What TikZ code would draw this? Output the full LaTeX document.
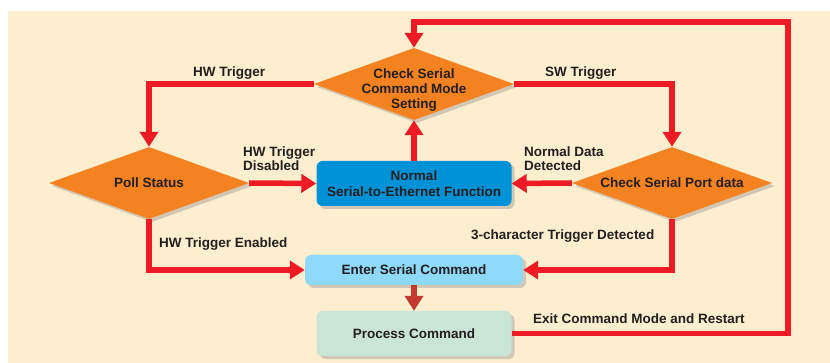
\documentclass[tikz,border=0pt]{standalone}
\usepackage{fontspec}
\setmainfont{Liberation Sans}
\usetikzlibrary{arrows.meta,shapes.geometric,shadows}

\definecolor{cream}{RGB}{253,238,208}
\definecolor{flowred}{RGB}{237,28,36}
\definecolor{dullred}{RGB}{196,58,46}
\definecolor{decorange}{RGB}{245,130,32}
\definecolor{normblue}{RGB}{0,146,214}
\definecolor{enterblue}{RGB}{142,216,248}
\definecolor{procgreen}{RGB}{202,229,214}
\definecolor{txtgray}{RGB}{35,31,32}

\tikzset{
  shade/.style={drop shadow={shadow xshift=3pt,shadow yshift=-3pt,opacity=.35}},
  decision/.style={diamond,aspect=2.78,fill=decorange,shade,minimum width=200pt,minimum height=72pt,
    inner sep=-10pt,align=center,text=txtgray,font=\fontsize{13.5}{15}\selectfont\bfseries},
  box/.style={rectangle,rounded corners=6pt,shade,align=center,text=txtgray,
    font=\fontsize{13.5}{16}\selectfont\bfseries},
  flow/.style={flowred,line width=5.5pt,-{Triangle[width=18pt,length=15pt]}},
  tag/.style={inner sep=0pt,anchor=north west,align=left,text=txtgray,
    font=\fontsize{13.5}{14}\selectfont\bfseries}
}

\begin{document}
\begin{tikzpicture}[x=1pt,y=-1pt]
  \useasboundingbox (0,0) rectangle (830,363);
  \fill[cream] (8,11) rectangle (830,363);

  % decisions
  \node[decision] (chk) at (414,84) {\rule{0pt}{21pt}Check Serial\\Command Mode\\Setting};
  \node[decision] (poll) at (149,183) {Poll Status};
  \node[decision] (port) at (672,183) {Check Serial Port data};

  % boxes
  \node[box,fill=normblue,minimum width=195pt,minimum height=45pt] (normal) at (414,183.5)
    {Normal\\Serial-to-Ethernet Function};
  \node[box,fill=enterblue,minimum width=218pt,minimum height=30pt] (enter) at (414,270)
    {Enter Serial Command};
  \node[box,fill=procgreen,minimum width=195pt,minimum height=45pt] (proc) at (414,333.5)
    {Process Command};

  \coordinate (loop) at (788,22);

  % connectors
  \draw[flow] (chk.west) -| (poll.north);
  \draw[flow] (chk.east) -| (port.north);
  \draw[flow] (poll.east) -- (normal.west);
  \draw[flow] (port.west) -- (normal.east);
  \draw[flow] (normal.north) -- (chk.south);
  \draw[flow] (poll.south) |- (enter.west);
  \draw[flow] (port.south) |- (enter.east);
  \draw[flow,dullred] (enter.south) -- (proc.north);
  \draw[flow] (proc.east) -| (loop) -| (chk.north);

  % labels
  \node[tag] (hwlbl) at (193,67) {HW Trigger};
  \node[tag] (swlbl) at (545,67) {SW Trigger};
  \node[tag] (offlbl) at (243,147) {HW Trigger\\Disabled};
  \node[tag] (datalbl) at (524,147) {Normal Data\\Detected};
  \node[tag] (onlbl) at (159,238) {HW Trigger Enabled};
  \node[tag] (triglbl) at (471,230) {3-character Trigger Detected};
  \node[tag] (exitlbl) at (533,314) {Exit Command Mode and Restart};
\end{tikzpicture}
\end{document}
